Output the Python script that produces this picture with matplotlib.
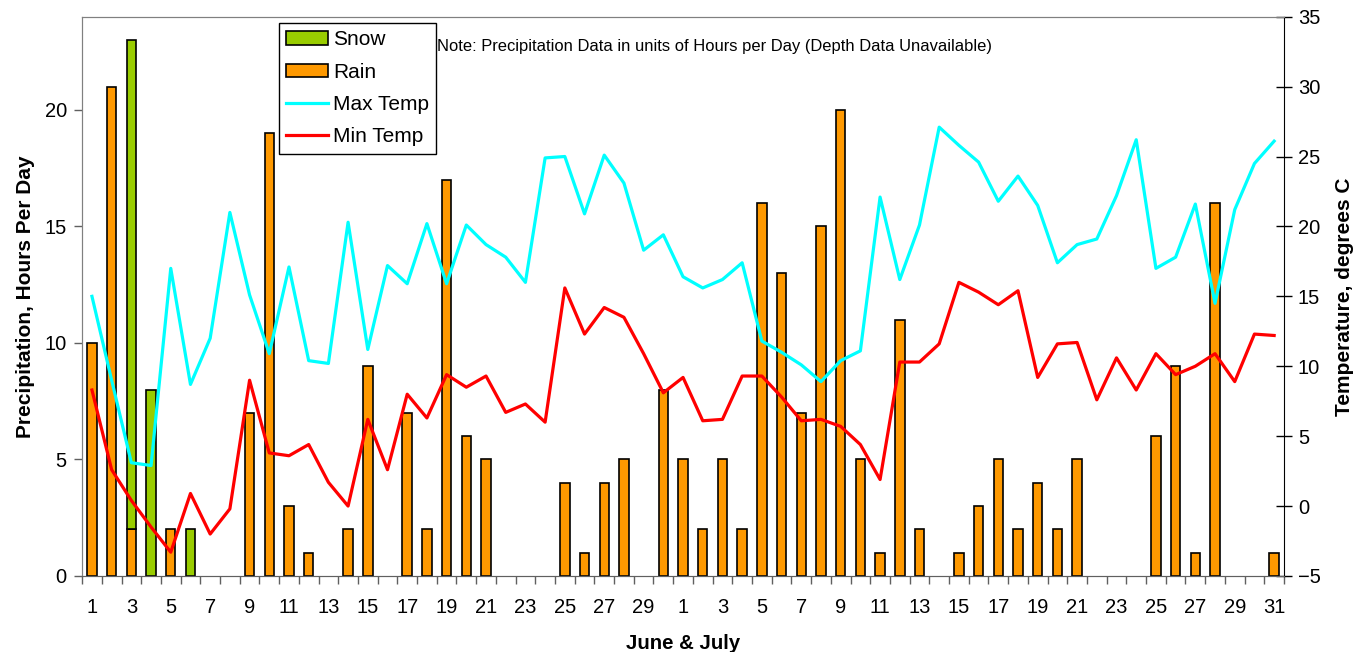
import numpy as np
import matplotlib.pyplot as plt
from matplotlib.patches import Patch
from matplotlib.lines import Line2D

plt.rcParams['font.family'] = ['Liberation Sans', 'DejaVu Sans']

# day of month for June (1-30) then July (1-31)
days = list(range(1, 31)) + list(range(1, 32))

rain = [10, 21, 2, 0, 2, 0, 0, 0, 7, 19, 3, 1, 0, 2, 9, 0, 7, 2, 17, 6,
        5, 0, 0, 0, 4, 1, 4, 5, 0, 8,
        5, 2, 5, 2, 16, 13, 7, 15, 20, 5, 1, 11, 2, 0, 1, 3, 5, 2, 4, 2,
        5, 0, 0, 0, 6, 9, 1, 16, 0, 0, 1]
snow = [0, 0, 21, 8, 0, 2] + [0] * 55

max_temp = [15.0, 9.0, 3.1, 2.9, 17.0, 8.7, 12.0, 21.0, 15.1, 10.9,
            17.1, 10.4, 10.2, 20.3, 11.2, 17.2, 15.9, 20.2, 15.9, 20.1,
            18.7, 17.8, 16.0, 24.9, 25.0, 20.9, 25.1, 23.1, 18.3, 19.4,
            16.4, 15.6, 16.2, 17.4, 11.8, 11.0, 10.1, 8.9, 10.4, 11.1,
            22.1, 16.2, 20.1, 27.1, 25.8, 24.6, 21.8, 23.6, 21.5, 17.4,
            18.7, 19.1, 22.2, 26.2, 17.0, 17.8, 21.6, 14.5, 21.2, 24.5, 26.1]
min_temp = [8.3, 2.6, 0.4, -1.5, -3.3, 0.9, -2.0, -0.2, 9.0, 3.8,
            3.6, 4.4, 1.7, 0.0, 6.2, 2.6, 8.0, 6.3, 9.4, 8.5,
            9.3, 6.7, 7.3, 6.0, 15.6, 12.3, 14.2, 13.5, 10.9, 8.1,
            9.2, 6.1, 6.2, 9.3, 9.3, 7.8, 6.1, 6.2, 5.7, 4.4,
            1.9, 10.3, 10.3, 11.6, 16.0, 15.3, 14.4, 15.4, 9.2, 11.6,
            11.7, 7.6, 10.6, 8.3, 10.9, 9.4, 10.0, 10.9, 8.9, 12.3, 12.2]

x = np.arange(1, len(days) + 1)
rain_a = np.array(rain)
snow_a = np.array(snow)
GREEN, ORANGE = '#99CC00', '#FF9900'

fig = plt.figure(figsize=(13.57, 6.52), dpi=100)
ax = fig.add_axes([0.0605, 0.1166, 0.8857, 0.8578])
ax2 = ax.twinx()

# only draw days that have precipitation (no flat outlines on the baseline)
r = rain_a > 0
s = snow_a > 0
ax.bar(x[r], rain_a[r], width=0.48, color=ORANGE, edgecolor='black', linewidth=1.2, zorder=2)
ax.bar(x[s], snow_a[s], width=0.48, bottom=rain_a[s], color=GREEN, edgecolor='black', linewidth=1.2, zorder=2)

ax2.plot(x, max_temp, color='#00FFFF', linewidth=2.3)
ax2.plot(x, min_temp, color='#FF0000', linewidth=2.3)

ax.set_xlim(0.5, len(days) + 0.5)
ax.set_ylim(0, 24)
ax.set_yticks([0, 5, 10, 15, 20])
ax2.set_ylim(-5, 35)
ax2.set_yticks(range(-5, 36, 5))

ax.set_xticks(x[::2])
ax.set_xticklabels([str(d) for d in days[::2]])
ax.set_xticks(np.arange(0.5, len(days) + 1, 1), minor=True)
ax.tick_params(axis='x', which='major', length=0, labelsize=14.5, pad=16)
ax.tick_params(axis='x', which='minor', length=6, width=1, color='#606060', direction='out')
ax.tick_params(axis='y', length=6, width=1, color='#606060', direction='out', labelsize=14.5, pad=5)
ax2.tick_params(axis='y', length=12, width=1, color='black', direction='inout', labelsize=14.5, pad=4)

for sp in ['top', 'left', 'bottom']:
    ax.spines[sp].set_color('#808080')
    ax2.spines[sp].set_color('#808080')
ax2.spines['bottom'].set_color('#606060')
ax2.spines['right'].set_color('black')
ax.spines['right'].set_visible(False)

ax.set_xlabel('June & July', fontsize=14.7, fontweight='bold', labelpad=12)
ax.set_ylabel('Precipitation, Hours Per Day', fontsize=15, fontweight='bold', labelpad=7)
ax2.set_ylabel('Temperature, degrees C', fontsize=15, fontweight='bold', labelpad=10)

fig.text(437 / 1357, 1 - 47 / 652, 'Note: Precipitation Data in units of Hours per Day (Depth Data Unavailable)',
         fontsize=11.9, va='center', ha='left')

handles = [Patch(facecolor=GREEN, edgecolor='black', linewidth=1.2),
           Patch(facecolor=ORANGE, edgecolor='black', linewidth=1.2),
           Line2D([], [], color='#00FFFF', linewidth=2.3),
           Line2D([], [], color='#FF0000', linewidth=2.3)]
labels = ['Snow', 'Rain', 'Max Temp', 'Min Temp']
leg = ax2.legend(handles, labels, loc='upper left', bbox_to_anchor=(279 / 1357, 1 - 23 / 652),
                 bbox_transform=fig.transFigure, fontsize=15, fancybox=False, framealpha=1,
                 edgecolor='black', handlelength=2.0, handleheight=0.6, handletextpad=0.25,
                 labelspacing=0.64, borderpad=0.35, borderaxespad=0)
leg.get_frame().set_linewidth(1)

fig.savefig('out.png', dpi=100)
